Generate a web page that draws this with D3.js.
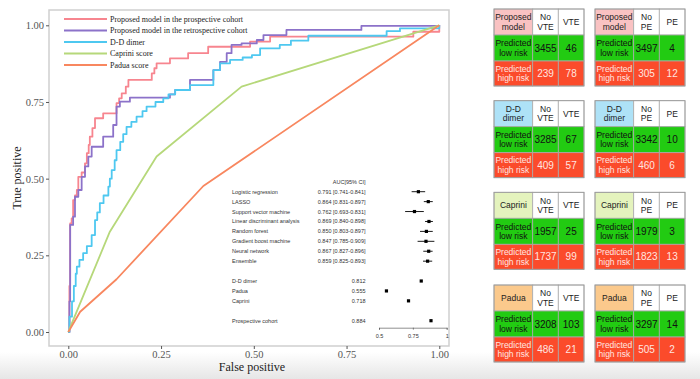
<!DOCTYPE html>
<html>
<head>
<meta charset="utf-8">
<script src="https://cdn.jsdelivr.net/npm/d3@7"></script>
<style>
body{margin:0;background:#fff;}
svg{display:block;}
</style>
</head>
<body>
<svg id="chart"></svg>
<script>
// ROC curves (fpr, tpr) - step points, top of each vertical rise
var prospective = [[0,0],[0.003,0.15],[0.005,0.354],[0.009,0.37],[0.013,0.43],[0.018,0.445],[0.023,0.463],[0.027,0.506],[0.036,0.52],[0.045,0.55],[0.05,0.583],[0.055,0.61],[0.058,0.637],[0.065,0.665],[0.072,0.697],[0.094,0.713],[0.13,0.746],[0.137,0.762],[0.144,0.778],[0.155,0.8],[0.162,0.822],[0.225,0.843],[0.232,0.86],[0.238,0.876],[0.274,0.892],[0.323,0.909],[0.377,0.93],[0.49,0.947],[0.544,0.963],[0.93,0.979],[1,1]];
var retrospective = [[0,0],[0.003,0.1],[0.005,0.349],[0.013,0.376],[0.018,0.441],[0.027,0.463],[0.036,0.506],[0.045,0.54],[0.054,0.572],[0.063,0.604],[0.094,0.637],[0.121,0.675],[0.13,0.735],[0.139,0.751],[0.166,0.764],[0.274,0.775],[0.288,0.789],[0.328,0.822],[0.391,0.854],[0.409,0.881],[0.427,0.909],[0.44,0.936],[0.467,0.941],[0.508,0.952],[0.526,0.968],[0.588,0.985],[0.79,0.998],[1,1]];
var ddimer = [[0,0],[0.003,0.05],[0.01,0.1],[0.015,0.15],[0.02,0.19],[0.023,0.213],[0.03,0.235],[0.04,0.257],[0.05,0.28],[0.063,0.316],[0.072,0.365],[0.078,0.39],[0.085,0.42],[0.095,0.445],[0.108,0.474],[0.112,0.5],[0.117,0.528],[0.125,0.56],[0.13,0.593],[0.14,0.62],[0.148,0.645],[0.157,0.669],[0.17,0.685],[0.184,0.702],[0.2,0.72],[0.211,0.735],[0.235,0.75],[0.256,0.762],[0.27,0.775],[0.288,0.789],[0.328,0.805],[0.391,0.854],[0.409,0.876],[0.436,0.887],[0.47,0.895],[0.495,0.903],[0.517,0.925],[0.57,0.936],[0.6,0.95],[0.647,0.966],[0.858,0.981],[0.894,0.99],[1,1]];
var caprini = [[0,0],[0.01,0.03],[0.112,0.327],[0.238,0.572],[0.467,0.8],[1,1]];
var padua = [[0,0],[0.032,0.066],[0.13,0.172],[0.364,0.476],[1,1]];

var curveNames = ["Proposed model in the prospective cohort","Proposed model in the retrospective cohort","D-D dimer","Caprini score","Padua score"];
var curveColors = ["#f7858f","#8c72c9","#4ec8f0","#b6d87a","#f8875f"];

var xTicks = [0,0.25,0.5,0.75,1];

// forest plot inset
var modelNames = ["Logistic regression","LASSO","Support vector machine","Linear discriminant analysis","Random forest","Gradient boost machine","Neural network","Ensemble","D-D dimer","Padua","Caprini","Prospective cohort"];
var modelRow = [0,1,2,3,4,5,6,7,9,10,11,13];
var modelAuc = [0.791,0.864,0.762,0.869,0.850,0.847,0.867,0.859,0.812,0.555,0.718,0.884];
var modelLo = [0.741,0.831,0.693,0.840,0.803,0.785,0.827,0.825,null,null,null,null];
var modelHi = [0.841,0.897,0.831,0.898,0.897,0.909,0.896,0.893,null,null,null,null];

// confusion tables
var tableNames = [["Proposed","model"],["D-D","dimer"],["Caprini"],["Padua"]];
var tableColors = ["#f9c2c2","#aee2f7","#e4f3bd","#fbc98c"];
var vteLow = [[3455,46],[3285,67],[1957,25],[3208,103]];
var vteHigh = [[239,78],[409,57],[1737,99],[486,21]];
var peLow = [[3497,4],[3342,10],[1979,3],[3297,14]];
var peHigh = [[305,12],[460,6],[1823,13],[505,2]];

var width=700;
var height=379;

var svg=d3.select("#chart")
.attr("width", width)
.attr("height", height)

// faint grey band at the bottom (photo edge)
var defs=svg.append("defs");
var grad=defs.append("linearGradient").attr("id","btm").attr("x1",0).attr("x2",0).attr("y1",0).attr("y2",1);
grad.append("stop").attr("offset","0%").attr("stop-color","#fff");
grad.append("stop").attr("offset","100%").attr("stop-color","#e6e6e6");
svg.append("rect").attr("x",0).attr("y",352).attr("width",width).attr("height",27).attr("fill","url(#btm)");

var x=d3.scaleLinear().domain([0,1]).range([68.3,439.3]);
var y=d3.scaleLinear().domain([0,1]).range([332,25.3]);

// panel border
svg.append("rect")
.attr("x",49).attr("y",10).attr("width",400).attr("height",336)
.attr("fill","none").attr("stroke","#cfcfcf").attr("stroke-width",1.5);

var serif="'Liberation Serif','Times New Roman',serif";
var sans="'Liberation Sans',Arial,Helvetica,sans-serif";

var yAxis=svg.append("g").attr("transform","translate(49,0)")
.call(d3.axisLeft(y).tickValues(xTicks).tickFormat(d3.format(".2f")).tickSize(3).tickPadding(2));
var xAxis=svg.append("g").attr("transform","translate(0,346)")
.call(d3.axisBottom(x).tickValues(xTicks).tickFormat(d3.format(".2f")).tickSize(3).tickPadding(2));
[yAxis,xAxis].forEach(function(a){
  a.select(".domain").remove();
  a.selectAll(".tick line").attr("stroke","#555");
  a.selectAll(".tick text").attr("font-family",serif).attr("font-size",10.5).attr("fill","#555");
});

svg.append("text").text("True positive")
.attr("transform","translate(21,178) rotate(-90)")
.attr("text-anchor","middle").attr("font-family",serif).attr("font-size",12).attr("fill","#222");
svg.append("text").text("False positive")
.attr("x",252).attr("y",371)
.attr("text-anchor","middle").attr("font-family",serif).attr("font-size",12).attr("fill","#222");

var line=d3.line()
.x(function(d){return x(d[0]);})
.y(function(d){return y(d[1]);});
var stepLine=d3.line()
.x(function(d){return x(d[0]);})
.y(function(d){return y(d[1]);})
.curve(d3.curveStepAfter);

var curves=[prospective,retrospective,ddimer,caprini,padua];
var isStep=[true,true,true,false,false];
svg.selectAll("path.roc")
.data(curves)
.enter()
.append("path")
.attr("class","roc")
.attr("d",function(d,i){return isStep[i]?stepLine(d):line(d);})
.attr("fill","none")
.attr("stroke",function(d,i){return curveColors[i];})
.attr("stroke-width",1.8)
.attr("stroke-linejoin","round");

// legend
var leg=svg.selectAll("g.leg")
.data(curveNames)
.enter()
.append("g")
.attr("class","leg")
.attr("transform",function(d,i){return "translate(64,"+(19+i*11.5)+")";});
leg.append("line").attr("x1",0).attr("x2",43).attr("y1",0).attr("y2",0)
.attr("stroke",function(d,i){return curveColors[i];}).attr("stroke-width",2);
leg.append("text").text(function(d){return d;})
.attr("x",46).attr("y",2.8)
.attr("font-family",serif).attr("font-size",8).attr("fill","#222");

// forest plot
var fx=d3.scaleLinear().domain([0.5,1]).range([379,446.7]);
var fy=d3.scaleLinear().domain([0,13]).range([191.7,320.7]);

svg.append("text").text("AUC[95% CI]")
.attr("x",365.5).attr("y",fy(-1)+2)
.attr("text-anchor","end").attr("font-family",sans).attr("font-size",5.5).attr("fill","#333");

var rows=svg.selectAll("g.frow")
.data(modelNames)
.enter()
.append("g")
.attr("class","frow")
.attr("transform",function(d,i){return "translate(0,"+fy(modelRow[i])+")";});
rows.append("text").text(function(d){return d;})
.attr("x",232).attr("y",2)
.attr("font-family",sans).attr("font-size",5.5).attr("fill","#333");
rows.append("text").text(function(d,i){
  var s=modelAuc[i].toFixed(3);
  if(modelLo[i]!=null) s+=" ["+modelLo[i].toFixed(3)+"-"+modelHi[i].toFixed(3)+"]";
  return s;})
.attr("x",365.5).attr("y",2)
.attr("text-anchor","end").attr("font-family",sans).attr("font-size",5.5).attr("fill","#333");
rows.filter(function(d,i){return modelLo[i]!=null;})
.append("line")
.attr("x1",function(d){var i=modelNames.indexOf(d);return fx(modelLo[i]);})
.attr("x2",function(d){var i=modelNames.indexOf(d);return fx(modelHi[i]);})
.attr("y1",0).attr("y2",0).attr("stroke","#000").attr("stroke-width",0.9);
rows.append("rect")
.attr("x",function(d,i){return fx(modelAuc[i])-1.6;})
.attr("y",-1.6).attr("width",3.2).attr("height",3.2).attr("fill","#000");

var fAxis=svg.append("g").attr("transform","translate(0,327.7)")
.call(d3.axisBottom(fx).tickValues([0.5,0.75,1]).tickFormat(function(d){return d;}).tickSize(2).tickPadding(4));
fAxis.select(".domain").attr("stroke","#444").attr("stroke-width",0.6);
fAxis.selectAll(".tick line").attr("stroke","#444").attr("stroke-width",0.6);
fAxis.selectAll(".tick text").attr("font-family",sans).attr("font-size",5.5).attr("fill","#333");

// confusion tables
var colX=[0,38.7,64.3,90];
var rowY=[0,26,52,77];
var tableTop=[9,100.7,192.3,285];
var tableLeft=[494,595];
var lowColor="#22cb12";
var highColor="#fb4b2b";

var drawTable=function(tx,ty,name,nameColor,outcome,low,high){
  var g=svg.append("g").attr("transform","translate("+tx+","+ty+")");
  var cells=[
    {r:0,c:0,fill:nameColor,lines:name,color:"#222"},
    {r:0,c:1,fill:"#fff",lines:["No",outcome],color:"#222"},
    {r:0,c:2,fill:"#fff",lines:[outcome],color:"#222"},
    {r:1,c:0,fill:lowColor,lines:["Predicted","low risk"],color:"#111"},
    {r:1,c:1,fill:lowColor,lines:[String(low[0])],color:"#111",big:true},
    {r:1,c:2,fill:lowColor,lines:[String(low[1])],color:"#111",big:true},
    {r:2,c:0,fill:highColor,lines:["Predicted","high risk"],color:"#ffe6e0"},
    {r:2,c:1,fill:highColor,lines:[String(high[0])],color:"#ffe6e0",big:true},
    {r:2,c:2,fill:highColor,lines:[String(high[1])],color:"#ffe6e0",big:true}
  ];
  var cg=g.selectAll("g.cell")
  .data(cells)
  .enter()
  .append("g")
  .attr("class","cell");
  cg.append("rect")
  .attr("x",function(d){return colX[d.c];})
  .attr("y",function(d){return rowY[d.r];})
  .attr("width",function(d){return colX[d.c+1]-colX[d.c];})
  .attr("height",function(d){return rowY[d.r+1]-rowY[d.r];})
  .attr("fill",function(d){return d.fill;})
  .attr("stroke","#aaa").attr("stroke-width",0.8);
  cg.each(function(d){
    var cx=(colX[d.c]+colX[d.c+1])/2;
    var cy=(rowY[d.r]+rowY[d.r+1])/2;
    var fs=d.big?10:8.5;
    var lh=9.5;
    var t=d3.select(this).append("text")
    .attr("text-anchor","middle")
    .attr("font-family",sans).attr("font-size",fs).attr("fill",d.color);
    d.lines.forEach(function(l,k){
      t.append("tspan").attr("x",cx)
      .attr("y",cy+(k-(d.lines.length-1)/2)*lh+fs*0.35)
      .text(l);
    });
  });
  g.append("rect").attr("x",0).attr("y",0).attr("width",colX[3]).attr("height",rowY[3])
  .attr("fill","none").attr("stroke","#999").attr("stroke-width",0.8);
}

for(var i=0;i<4;i++){
  drawTable(tableLeft[0],tableTop[i],tableNames[i],tableColors[i],"VTE",vteLow[i],vteHigh[i]);
  drawTable(tableLeft[1],tableTop[i],tableNames[i],tableColors[i],"PE",peLow[i],peHigh[i]);
}
</script>
</body>
</html>
